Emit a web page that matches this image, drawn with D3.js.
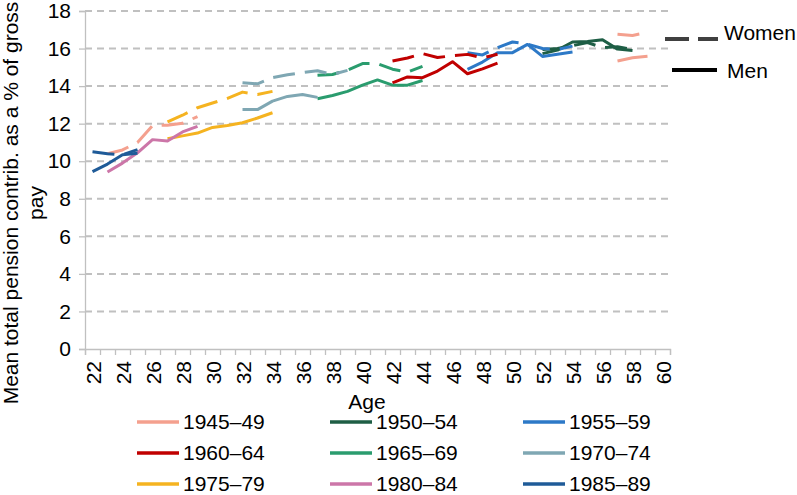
<!DOCTYPE html>
<html>
<head>
<meta charset="utf-8">
<script src="https://cdn.jsdelivr.net/npm/d3@7"></script>
<style>
  body { margin: 0; background: #fff; }
  svg { display: block; font-family: "Liberation Sans", Arial, sans-serif; }
</style>
</head>
<body>
<div id="chart"></div>
<script>
// categories and tick labels
const ages = [22, 23, 24, 25, 26, 27, 28, 29, 30, 31, 32, 33, 34, 35, 36, 37, 38, 39, 40,
              41, 42, 43, 44, 45, 46, 47, 48, 49, 50, 51, 52, 53, 54, 55, 56, 57, 58, 59, 60];
const ageLabels = [22, 24, 26, 28, 30, 32, 34, 36, 38, 40, 42, 44, 46, 48, 50, 52, 54, 56, 58, 60];
const yTicks = [0, 2, 4, 6, 8, 10, 12, 14, 16, 18];

// cohorts (legend order)
const cohorts = ["1945–49", "1950–54", "1955–59", "1960–64", "1965–69",
                 "1970–74", "1975–79", "1980–84", "1985–89"];
const colors = ["#F4A08E", "#1E5E45", "#2D79C7", "#C00000", "#2A9C6E",
                "#7FA7B3", "#F5B320", "#CC76A8", "#1F5B98"];
const womenColors = ["#F4A08E", "#1E5E45", "#2D79C7", "#C00000", "#2A9C6E",
                     "#7FA7B3", "#F5B320", "#F4A08E", "#1F5B98"];

// first age observed for each cohort
const startAge = [57, 52, 47, 42, 37, 32, 27, 23, 22];

// mean total pension contribution (% of gross pay), men
const menValues = [
  [15.34, 15.51, 15.59],
  [15.73, 15.92, 16.35, 16.37, 16.47, 15.97, 15.9],
  [14.89, 15.28, 15.78, 15.78, 16.22, 15.58, 15.7, 15.82],
  [14.17, 14.49, 14.45, 14.8, 15.3, 14.66, 14.92, 15.22],
  [13.33, 13.5, 13.72, 14.05, 14.33, 14.05, 14.05, 14.3],
  [12.75, 12.75, 13.2, 13.45, 13.55, 13.4],
  [11.2, 11.35, 11.5, 11.8, 11.9, 12.05, 12.3, 12.58],
  [9.43, 9.9, 10.45, 11.15, 11.08, 11.56, 11.86],
  [9.45, 9.85, 10.35, 10.42]
];

// women
const womenValues = [
  [16.76, 16.7, 16.86],
  [15.95, 16.0, 16.15, 16.32, 16.05, 16.1, 15.95],
  [15.78, 15.66, 16.05, 16.35, 16.24, 16.0, 15.95, 16.13],
  [15.34, 15.5, 15.73, 15.52, 15.62, 15.69, 15.5, 15.7],
  [14.58, 14.62, 14.85, 15.2, 15.2, 14.9, 14.75, 15.05],
  [14.18, 14.12, 14.45, 14.6, 14.72, 14.82, 14.62, 14.84],
  [12.1, 12.45, 12.85, 13.1, 13.35, 13.68, 13.55, 13.72],
  [10.4, 10.6, 11.0, 11.9, 11.92, 12.02, 12.38],
  [10.5, 10.4, 10.35, 10.62]
];

const width = 797;
const height = 495;
const margin = {top: 11, right: 127, bottom: 146, left: 85};
const fontSize = 21;
const gridColor = "#C0C0C0";

const svg = d3.select("#chart")
  .append("svg")
    .attr("width", width)
    .attr("height", height);

// category axis: one band per age, points in the middle of each band
const x = d3.scaleLinear()
  .domain([ages[0] - 0.5, ages[ages.length - 1] + 0.5])
  .range([margin.left, width - margin.right]);

const y = d3.scaleLinear()
  .domain([0, 18])
  .range([height - margin.bottom, margin.top]);

// gridlines
svg.append("g")
  .selectAll("line")
  .data(yTicks.filter(d => d > 0))
  .join("line")
    .attr("x1", x.range()[0])
    .attr("x2", x.range()[1])
    .attr("y1", d => y(d))
    .attr("y2", d => y(d))
    .attr("stroke", gridColor)
    .attr("stroke-width", 2)
    .attr("stroke-dasharray", "7,5");

// y axis
svg.append("g")
  .attr("transform", `translate(${margin.left},0)`)
  .call(d3.axisLeft(y).tickValues(yTicks).tickSize(6).tickPadding(8))
  .call(g => g.selectAll(".domain, line").attr("stroke", gridColor).attr("stroke-width", 1.3))
  .call(g => g.selectAll("text")
    .attr("font-size", fontSize)
    .attr("font-family", "Liberation Sans, Arial, sans-serif")
    .attr("fill", "#000"));

// x axis: ticks between categories
svg.append("g")
  .attr("transform", `translate(0,${y(0)})`)
  .call(d3.axisBottom(x)
    .tickValues(ages.map(a => a - 0.5).concat([ages[ages.length - 1] + 0.5]))
    .tickSize(6)
    .tickFormat(""))
  .call(g => g.selectAll(".domain, line").attr("stroke", gridColor).attr("stroke-width", 1.3));

// x axis labels, rotated
svg.append("g")
  .attr("transform", `translate(0,${y(0)})`)
  .call(d3.axisBottom(x).tickValues(ageLabels).tickSize(0))
  .call(g => g.select(".domain").remove())
  .call(g => g.selectAll("text")
    .attr("font-size", fontSize)
    .attr("font-family", "Liberation Sans, Arial, sans-serif")
    .attr("fill", "#000")
    .attr("transform", "rotate(-90)")
    .attr("text-anchor", "end")
    .attr("x", -12)
    .attr("y", 0)
    .attr("dy", "0.36em"));

// axis titles
svg.append("text")
  .attr("x", 367)
  .attr("y", 409)
  .attr("text-anchor", "middle")
  .attr("font-size", fontSize)
  .text("Age");

const yTitle = ["Mean total pension contrib. as a % of gross", "pay"];
svg.append("g")
  .selectAll("text")
  .data(yTitle)
  .join("text")
    .attr("transform", (d, i) => `translate(${18 + i * 25},203) rotate(-90)`)
    .attr("text-anchor", "middle")
    .attr("font-size", fontSize)
    .text(d => d);

// series
const line = (start) => d3.line()
  .x((d, i) => x(start + i))
  .y(d => y(d));

const series = svg.append("g")
  .attr("fill", "none")
  .attr("stroke-width", 3)
  .attr("stroke-linejoin", "round");

cohorts.forEach((c, i) => {
  series.append("path")
    .attr("d", line(startAge[i])(womenValues[i]))
    .attr("stroke", womenColors[i])
    .attr("stroke-dasharray", "22,10");
  series.append("path")
    .attr("d", line(startAge[i])(menValues[i]))
    .attr("stroke", colors[i]);
});

// Women / Men legend
const keyLegend = svg.append("g").attr("font-size", fontSize);
keyLegend.append("line")
  .attr("x1", 665).attr("x2", 718)
  .attr("y1", 39).attr("y2", 39)
  .attr("stroke", "#404040")
  .attr("stroke-width", 4)
  .attr("stroke-dasharray", "24,9");
keyLegend.append("text")
  .attr("x", 724).attr("y", 33)
  .attr("dy", "0.35em")
  .text("Women");
keyLegend.append("line")
  .attr("x1", 672).attr("x2", 717)
  .attr("y1", 70).attr("y2", 70)
  .attr("stroke", "#000")
  .attr("stroke-width", 4);
keyLegend.append("text")
  .attr("x", 727).attr("y", 71)
  .attr("dy", "0.35em")
  .text("Men");

// cohort legend, three columns
const colX = [137, 330, 523];
const rowY = [422, 453, 484];
const legend = svg.append("g")
  .selectAll("g")
  .data(cohorts)
  .join("g")
    .attr("transform", (d, i) => `translate(${colX[i % 3]},${rowY[Math.floor(i / 3)]})`);
legend.append("line")
  .attr("x1", 0).attr("x2", 42)
  .attr("stroke", (d, i) => colors[i])
  .attr("stroke-width", 3.5);
legend.append("text")
  .attr("x", 46)
  .attr("dy", "0.35em")
  .attr("font-size", fontSize)
  .text(d => d);
</script>
</body>
</html>
